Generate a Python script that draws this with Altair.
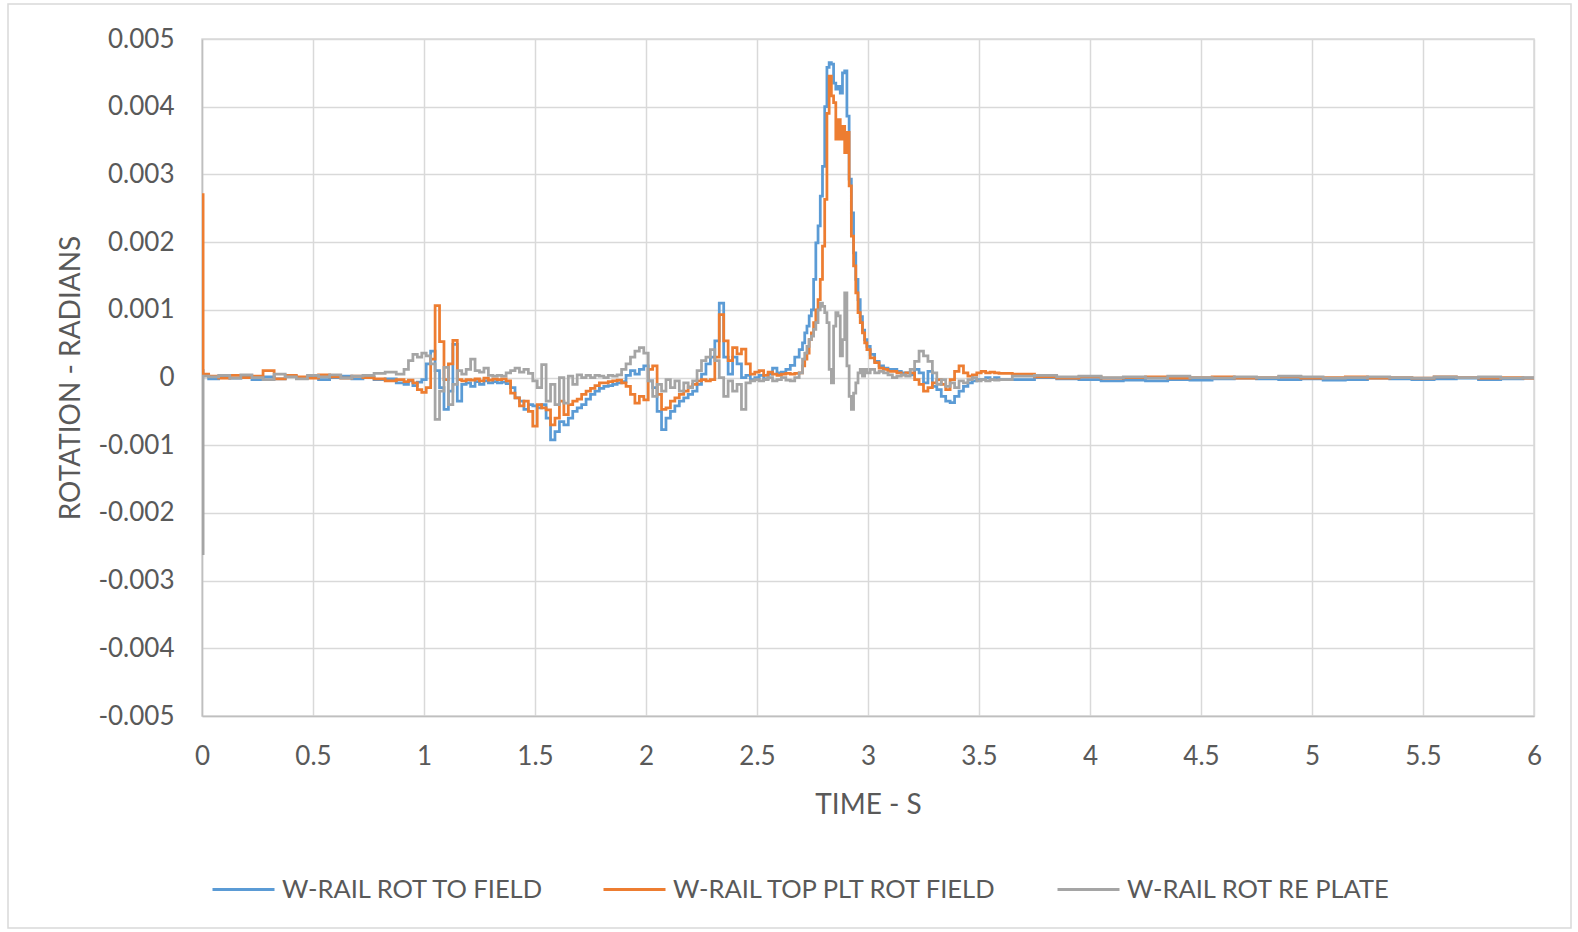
import altair as alt
import pandas as pd

# Sample times (s)
time_s = [
    0.00, 0.01, 0.05, 0.10, 0.15, 0.20, 0.25, 0.30, 0.35, 0.40,
    0.45, 0.50, 0.55, 0.60, 0.65, 0.70, 0.75, 0.80, 0.85,
    # 0.90 - 2.68 every 0.02 s
    0.90, 0.92, 0.94, 0.96, 0.98, 1.00, 1.02, 1.04, 1.06, 1.08,
    1.10, 1.12, 1.14, 1.16, 1.18, 1.20, 1.22, 1.24, 1.26, 1.28,
    1.30, 1.32, 1.34, 1.36, 1.38, 1.40, 1.42, 1.44, 1.46, 1.48,
    1.50, 1.52, 1.54, 1.56, 1.58, 1.60, 1.62, 1.64, 1.66, 1.68,
    1.70, 1.72, 1.74, 1.76, 1.78, 1.80, 1.82, 1.84, 1.86, 1.88,
    1.90, 1.92, 1.94, 1.96, 1.98, 2.00, 2.02, 2.04, 2.06, 2.08,
    2.10, 2.12, 2.14, 2.16, 2.18, 2.20, 2.22, 2.24, 2.26, 2.28,
    2.30, 2.32, 2.34, 2.36, 2.38, 2.40, 2.42, 2.44, 2.46, 2.48,
    2.50, 2.52, 2.54, 2.56, 2.58, 2.60, 2.62, 2.64, 2.66, 2.68,
    # main pulse, every 0.01 s
    2.70, 2.71, 2.72, 2.73, 2.74, 2.75, 2.76, 2.77, 2.78, 2.79,
    2.80, 2.81, 2.82, 2.83, 2.84, 2.85, 2.86, 2.87, 2.88, 2.89,
    2.90, 2.91, 2.92, 2.93, 2.94, 2.95, 2.96, 2.97, 2.98, 2.99,
    # 3.00 - 3.60 every 0.02 s
    3.00, 3.02, 3.04, 3.06, 3.08, 3.10, 3.12, 3.14, 3.16, 3.18,
    3.20, 3.22, 3.24, 3.26, 3.28, 3.30, 3.32, 3.34, 3.36, 3.38,
    3.40, 3.42, 3.44, 3.46, 3.48, 3.50, 3.52, 3.54, 3.56, 3.58,
    3.60,
    # tail
    3.70, 3.80, 3.90, 4.00, 4.10, 4.20, 4.30, 4.40, 4.50, 4.60,
    4.70, 4.80, 4.90, 5.00, 5.10, 5.20, 5.30, 5.40, 5.50, 5.60,
    5.70, 5.80, 5.90, 6.00,
]

# Rotations, in units of 1e-4 rad
rot_to_field = [
    1.0, 0.3, -0.2, 0.1, -0.1, 0.2, -0.3, 0.1, -0.2, 0.2,
    -0.1, 0.1, -0.3, 0.0, 0.2, -0.2, 0.1, -0.3, -0.2,
    -0.8, -1.0, -0.5, -1.2, -0.7, -0.3, 2.0, 3.9, 1.0, -1.5,
    -4.7, -2.0, 4.9, -3.5, -1.0, -0.8, -1.3, -0.6, -1.0, -0.5,
    -0.8, -0.6, -0.8, -0.7, -0.9, -1.5, -3.0, -3.5, -4.7, -4.0,
    -4.2, -4.5, -4.0, -6.0, -9.2, -8.0, -6.5, -7.0, -6.0, -5.0,
    -4.5, -4.0, -3.2, -2.5, -2.0, -1.6, -1.3, -1.2, -1.0, -0.8,
    -0.6, 0.3, 1.0, 0.5, 1.2, 1.7, -0.5, -1.5, -5.0, -7.7,
    -6.0, -5.0, -4.2, -3.5, -3.0, -2.5, -2.0, -1.0, 0.5, 2.0,
    3.0, 5.4, 11.0, 3.0, 0.5, 3.0, 2.0, 0.0, 0.3, -0.3,
    0.0, 0.3, -0.2, 0.5, 1.4, 0.7, 0.8, 1.2, 1.8, 3.0,
    4.1, 5.1, 6.6, 7.6, 9.1, 10.0, 14.5, 19.9, 22.4, 26.8,
    31.2, 40.0, 45.8, 46.5, 46.3, 43.5, 42.6, 43.0, 42.0, 45.0,
    45.3, 38.6, 29.3, 24.3, 18.4, 14.5, 11.5, 9.0, 7.0, 5.6,
    4.6, 3.4, 2.4, 1.7, 1.4, 1.2, 1.2, 0.9, 0.7, 0.7,
    0.4, 1.2, 0.7, -0.8, 0.9, -1.3, -1.8, -2.8, -3.5, -3.7,
    -2.8, -2.0, -1.3, -0.8, -0.5, -0.3, -0.3, 0.0, -0.3, 0.0,
    -0.3,
    -0.3, 0.0, -0.2, -0.3, -0.5, -0.4, -0.5, -0.3, -0.4, -0.2,
    -0.1, -0.2, -0.3, -0.2, -0.4, -0.3, -0.1, -0.2, -0.3, -0.2,
    -0.1, -0.3, -0.2, -0.1,
]

top_plt_rot_field = [
    27.0, 0.5, 0.2, -0.1, 0.3, 0.0, 0.2, 1.0, -0.2, 0.3,
    0.1, -0.1, 0.4, 0.1, -0.1, 0.2, 0.0, -0.2, -0.5,
    -0.3, -0.6, -0.4, -0.8, -1.8, -2.2, -1.5, 2.7, 10.6, 5.3,
    -0.3, 2.0, 5.5, -0.3, -0.5, -0.3, -0.4, -0.2, -0.5, -0.1,
    -0.4, -0.2, -0.3, -0.2, -0.5, -2.3, -3.0, -4.2, -3.5, -5.0,
    -7.2, -4.0, -4.5, -4.8, -7.0, -6.0, -3.5, -5.5, -4.0, -3.5,
    -3.2, -2.5, -2.0, -1.6, -1.2, -0.8, -0.8, -0.6, -0.5, -0.4,
    -0.8, -1.3, -2.5, -3.8, -2.8, -3.3, 1.2, 1.7, -2.5, -4.7,
    -4.5, -3.5, -3.0, -2.5, -2.0, -1.4, -1.0, -0.5, -0.3, -0.5,
    -0.3, 3.0, 9.3, 5.4, 2.5, 4.4, 3.5, 4.2, 2.0, 0.5,
    0.8, 1.0, 0.3, 0.8, 0.5, 0.3, 0.5, 0.6, 0.5, 0.6,
    0.7, 1.7, 2.7, 3.6, 5.6, 6.6, 8.1, 10.0, 11.5, 14.5,
    19.4, 26.3, 39.0, 44.5, 41.6, 40.6, 35.2, 38.1, 35.2, 37.1,
    33.2, 36.2, 28.3, 20.9, 16.5, 12.5, 9.6, 8.1, 6.6, 5.1,
    4.1, 2.9, 2.2, 1.4, 1.2, 0.9, 0.9, 0.7, 0.4, 0.7,
    0.7, -0.3, -1.0, -2.0, -1.5, -0.8, -0.3, -1.0, -1.8, -0.3,
    0.9, 1.7, 0.7, 0.2, 0.4, 0.7, 0.9, 0.7, 0.8, 0.7,
    0.6,
    0.5, 0.1, -0.1, 0.1, -0.1, 0.0, 0.1, -0.1, 0.0, 0.1,
    -0.1, 0.0, 0.1, -0.1, 0.0, 0.1, -0.1, 0.0, -0.1, 0.1,
    0.0, -0.1, 0.0, -0.1,
]

rot_re_plate = [
    -26.0, 0.2, 0.1, 0.3, -0.1, 0.4, 0.0, -0.3, 0.5, 0.1,
    -0.2, 0.3, 0.1, 0.4, -0.1, 0.2, 0.3, 0.6, 0.8,
    0.5, 1.2, 2.5, 3.4, 3.0, 3.6, 3.2, 2.0, -6.2, -2.0,
    1.5, -4.0, -1.0, 1.0, 0.5, 1.2, 2.7, 1.0, 0.8, 1.4,
    0.3, 0.2, 0.3, 0.2, 0.7, 1.0, 1.4, 0.8, 1.2, 0.6,
    -0.5, -1.5, 1.9, -3.5, -1.0, -4.0, 0.0, -3.8, 0.2, -1.0,
    0.4, 0.0, 0.3, 0.0, 0.3, 0.2, 0.0, 0.3, 0.2, 0.4,
    1.2, 2.0, 3.0, 3.9, 4.4, 3.6, -0.5, -2.8, -1.0, -2.0,
    -0.3, -1.5, -0.5, -2.0, -0.8, -1.5, -0.5, 1.0, 2.5, 3.0,
    4.1, 2.5, 0.0, -2.8, -0.5, -2.0, -1.0, -4.7, -0.8, -0.5,
    -0.3, -0.5, -0.3, 0.0, -0.5, -0.3, 0.0, -0.4, -0.5, 0.0,
    0.7, 2.7, 3.6, 4.6, 5.6, 6.1, 7.1, 8.1, 10.0, 11.0,
    10.5, 9.6, 8.1, 1.2, -0.8, 7.6, 9.6, 9.1, 3.2, 5.6,
    12.5, 1.7, -2.8, -4.7, -2.3, -0.8, 0.7, 1.2, 0.2, 1.2,
    0.7, 1.2, 0.7, 0.9, 0.7, 0.4, 0.0, 0.2, 0.4, 0.2,
    1.2, 2.4, 3.9, 3.2, 2.4, 0.7, -1.0, -0.3, -1.3, -0.8,
    -1.5, -0.5, -0.8, -0.3, 0.0, -0.5, -0.3, -0.5, -0.3, -0.4,
    -0.3,
    0.2, 0.3, 0.1, 0.2, 0.0, 0.1, -0.1, 0.2, 0.0, -0.1,
    0.1, 0.0, 0.2, 0.1, -0.1, 0.0, 0.1, 0.0, -0.1, 0.1,
    0.0, 0.1, -0.1, 0.0,
]

series_names = ["W-RAIL ROT TO FIELD", "W-RAIL TOP PLT ROT FIELD", "W-RAIL ROT RE PLATE"]
series_colors = ["#5B9BD5", "#ED7D31", "#A5A5A5"]

x_ticks = [0, 0.5, 1, 1.5, 2, 2.5, 3, 3.5, 4, 4.5, 5, 5.5, 6]
y_ticks = [-0.005, -0.004, -0.003, -0.002, -0.001, 0, 0.001, 0.002, 0.003, 0.004, 0.005]

rows = []
for name, values in zip(series_names, [rot_to_field, top_plt_rot_field, rot_re_plate]):
    for t, v in zip(time_s, values):
        rows.append({"time": t, "rotation": v * 1e-4, "series": name})
df = pd.DataFrame(rows)

FONT = "Lato"
TEXT = "#595959"
PLOT_W, PLOT_H = 1332, 677

lines = (
    alt.Chart(df)
    .mark_line(interpolate="step", strokeWidth=2.75, clip=True)
    .encode(
        x=alt.X(
            "time:Q",
            scale=alt.Scale(domain=[0, 6], nice=False, zero=False),
            axis=alt.Axis(values=x_ticks, format="~g", title="TIME - S",
                          labelPadding=27, titlePadding=22, labelFlush=False),
        ),
        y=alt.Y(
            "rotation:Q",
            scale=alt.Scale(domain=[-0.005, 0.005], nice=False),
            axis=alt.Axis(
                values=y_ticks,
                labelExpr="datum.value == 0 ? '0' : (datum.value < 0 ? '-' : '') + format(abs(datum.value), '.3f')",
                title="ROTATION - RADIANS",
                labelPadding=28,
                titlePadding=12,
                labelFlush=False,
            ),
        ),
        color=alt.Color(
            "series:N",
            scale=alt.Scale(domain=series_names, range=series_colors),
            sort=series_names,
            legend=alt.Legend(
                title=None,
                orient="none",
                direction="horizontal",
                legendX=9,
                legendY=818,
                symbolType="stroke",
                symbolSize=3844,
                symbolStrokeWidth=3,
                labelFont=FONT,
                labelFontSize=25.5,
                labelColor=TEXT,
                labelLimit=600,
                labelOffset=6,
                columnPadding=52,
            ),
        ),
    )
)

# light frame around the whole chart area
frame = (
    alt.Chart(alt.Data(values=[{"frame": 1}]))
    .mark_rect(fill="transparent", stroke="#D9D9D9", strokeWidth=1.5)
    .encode(
        x=alt.value(-194),
        x2=alt.value(PLOT_W + 37),
        y=alt.value(-35),
        y2=alt.value(PLOT_H + 212),
    )
)

chart = (
    alt.layer(frame, lines)
    .properties(
        width=PLOT_W,
        height=PLOT_H,
        autosize=alt.AutoSizeParams(type="none"),
        padding={"left": 202, "top": 39, "right": 44, "bottom": 216},
        background="white",
    )
    .configure_axis(
        labelFont=FONT,
        labelFontSize=26,
        labelColor=TEXT,
        titleFont=FONT,
        titleFontSize=28,
        titleFontWeight="normal",
        titleColor=TEXT,
        gridColor="#D9D9D9",
        gridWidth=1.5,
        domainColor="#BFBFBF",
        domainWidth=1.5,
        ticks=False,
    )
    .configure_view(stroke="#D9D9D9", strokeWidth=1.5)
)

chart.save("out.html", embed_options={"renderer": "svg", "actions": False})
